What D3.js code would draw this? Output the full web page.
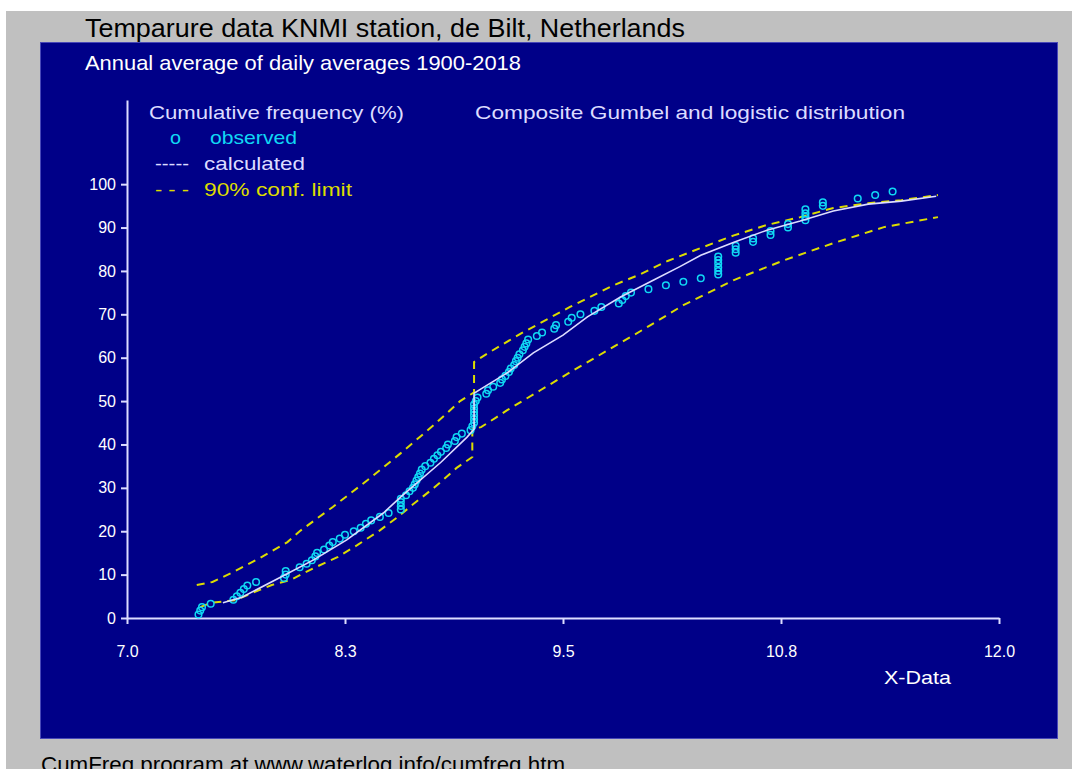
<!DOCTYPE html>
<html lang="en">
<head>
    <meta charset="UTF-8">
    <title>CumFreq - KNMI de Bilt</title>
    <style>
        body {
            margin: 0;
            background: #ffffff;
        }
        text {
            font-family: "Liberation Sans", Arial, sans-serif;
        }
    </style>
</head>
<body>
    <script src="https://d3js.org/d3.v7.min.js"></script>

    <script type="text/javascript">
        // Observed annual temperatures (sorted) and their cumulative frequency (%)
        var obsTemp = [
            7.41, 7.42, 7.43, 7.48, 7.61, 7.63, 7.65, 7.67, 7.69, 7.74,
            7.90, 7.91, 7.91, 7.99, 8.03, 8.06, 8.08, 8.09, 8.13, 8.16,
            8.18, 8.22, 8.25, 8.30, 8.34, 8.37, 8.40, 8.45, 8.50, 8.57,
            8.57, 8.57, 8.57, 8.60, 8.62, 8.64, 8.65, 8.66, 8.67, 8.68,
            8.69, 8.71, 8.74, 8.76, 8.78, 8.80, 8.83, 8.84, 8.88, 8.89,
            8.92, 8.97, 8.98, 8.99, 8.99, 8.99, 8.99, 8.99, 8.99, 9.00,
            9.01, 9.06, 9.07, 9.10, 9.14, 9.15, 9.17, 9.19, 9.20, 9.22,
            9.23, 9.24, 9.25, 9.27, 9.28, 9.29, 9.30, 9.35, 9.38, 9.45,
            9.46, 9.53, 9.55, 9.60, 9.68, 9.72, 9.82, 9.84, 9.86, 9.89,
            9.99, 10.09, 10.19, 10.29, 10.39, 10.39, 10.39, 10.39, 10.39, 10.39,
            10.49, 10.49, 10.49, 10.59, 10.59, 10.69, 10.69, 10.79, 10.79, 10.89,
            10.89, 10.89, 10.89, 10.99, 10.99, 11.19, 11.29, 11.39
        ];
        var obsFreq = [
            0.8, 1.7, 2.5, 3.3, 4.2, 5.0, 5.8, 6.7, 7.5, 8.3,
            9.2, 10.0, 10.8, 11.7, 12.5, 13.3, 14.2, 15.0, 15.8, 16.7,
            17.5, 18.3, 19.2, 20.0, 20.8, 21.7, 22.5, 23.3, 24.2, 25.0,
            25.8, 26.7, 27.5, 28.3, 29.2, 30.0, 30.8, 31.7, 32.5, 33.3,
            34.2, 35.0, 35.8, 36.7, 37.5, 38.3, 39.2, 40.0, 40.8, 41.7,
            42.5, 43.3, 44.2, 45.0, 45.8, 46.7, 47.5, 48.3, 49.2, 50.0,
            50.8, 51.7, 52.5, 53.3, 54.2, 55.0, 55.8, 56.7, 57.5, 58.3,
            59.2, 60.0, 60.8, 61.7, 62.5, 63.3, 64.2, 65.0, 65.8, 66.7,
            67.5, 68.3, 69.2, 70.0, 70.8, 71.7, 72.5, 73.3, 74.2, 75.0,
            75.8, 76.7, 77.5, 78.3, 79.2, 80.0, 80.8, 81.7, 82.5, 83.3,
            84.2, 85.0, 85.8, 86.7, 87.5, 88.3, 89.2, 90.0, 90.8, 91.7,
            92.5, 93.3, 94.2, 95.0, 95.8, 96.7, 97.5, 98.3
        ];

        // Calculated composite distribution (break at 9.0)
        var calcTemp = [7.55, 7.66, 7.88, 8.07, 8.26, 8.47, 8.57, 8.80, 8.95, 8.99, 8.99, 9.03, 9.18, 9.33, 9.50,
                        9.64, 9.83, 10.02, 10.17, 10.29, 10.48, 10.67, 10.86, 11.05, 11.25, 11.44, 11.64];
        var calcFreq = [3.5, 4.8, 9.4, 13.4, 18.0, 24.2, 27.9, 35.9, 41.7, 43.5, 51.8, 52.8, 56.5, 61.1, 65.2,
                        69.4, 74.0, 77.9, 81.0, 83.6, 86.6, 89.4, 91.5, 93.8, 95.4, 96.1, 97.2];

        // 90% confidence limits
        var upperTemp = [7.40, 7.49, 7.61, 7.76, 7.92, 7.99, 8.18, 8.38, 8.57, 8.76, 8.91, 8.99, 8.99, 9.08,
                         9.26, 9.54, 9.79, 9.93, 10.10, 10.29, 10.48, 10.67, 10.86, 11.05, 11.25, 11.44, 11.65];
        var upperFreq = [7.6, 8.3, 10.6, 13.8, 17.5, 20.0, 25.6, 31.8, 38.0, 44.5, 50.0, 52.0, 59.0, 61.3,
                         65.6, 71.7, 76.7, 79.0, 82.3, 85.3, 88.2, 90.6, 92.4, 94.5, 95.6, 96.3, 97.5];
        var lowerTemp = [7.42, 7.48, 7.62, 7.72, 7.83, 7.94, 8.07, 8.21, 8.32, 8.45, 8.55, 8.64, 8.76, 8.89,
                         8.98, 8.98, 9.03, 9.12, 9.18, 9.37, 9.56, 9.76, 9.96, 10.19, 10.48, 10.77, 11.05, 11.34, 11.65];
        var lowerFreq = [2.5, 3.5, 4.1, 5.8, 7.6, 8.8, 11.5, 14.1, 16.8, 20.2, 23.2, 26.2, 30.0, 34.6,
                         37.1, 43.5, 44.0, 46.3, 47.9, 52.5, 57.1, 61.8, 66.5, 72.1, 77.9, 82.5, 86.4, 90.1, 92.4];

        // Axis ticks
        var xTickValues = [7, 8.25, 9.5, 10.75, 12];
        var xTickLabels = ["7.0", "8.3", "9.5", "10.8", "12.0"];
        var yTickValues = [0, 10, 20, 30, 40, 50, 60, 70, 80, 90, 100];

        var width = 1077, height = 769;
        var navy = "#000088";
        var cyan = "#10d8f4";
        var yellow = "#dcdc00";
        var pale = "#dcdcff";

        var svg = d3.select("body")
                    .append("svg")
                    .attr("width", width)
                    .attr("height", height);

        // grey window and navy plot panel
        svg.append("rect").attr("x", 6).attr("y", 11)
           .attr("width", 1066).attr("height", height - 11).attr("fill", "#c0c0c0");
        svg.append("rect").attr("x", 40.5).attr("y", 42.5)
           .attr("width", 1017).attr("height", 696)
           .attr("fill", navy).attr("stroke", "#4848b8").attr("stroke-width", 1);

        // scales: y top of axis line sits above 100%
        var x = d3.scaleLinear().domain([7, 12]).range([127, 999]);
        var y = d3.scaleLinear().domain([0, 119.4]).range([618, 100]);

        // titles
        svg.append("text").attr("x", 85).attr("y", 37)
           .attr("font-size", 26).attr("fill", "#000")
           .attr("textLength", 600).attr("lengthAdjust", "spacingAndGlyphs")
           .text("Temparure data KNMI station, de Bilt, Netherlands");
        svg.append("text").attr("x", 85).attr("y", 70)
           .attr("font-size", 21).attr("fill", "#fff")
           .attr("textLength", 436).attr("lengthAdjust", "spacingAndGlyphs")
           .text("Annual average of daily averages 1900-2018");
        svg.append("text").attr("x", 41).attr("y", 772)
           .attr("font-size", 22).attr("fill", "#000")
           .attr("textLength", 524).attr("lengthAdjust", "spacingAndGlyphs")
           .text("CumFreq program at www.waterlog.info/cumfreq.htm");

        // legend block
        var legend = [
            {x: 149, y: 119, w: 255, c: pale, t: "Cumulative frequency (%)"},
            {x: 475, y: 119, w: 430, c: pale, t: "Composite Gumbel and logistic distribution"},
            {x: 170, y: 144, w: 11, c: cyan, t: "o"},
            {x: 210, y: 144, w: 87, c: cyan, t: "observed"},
            {x: 155, y: 170, w: 34, c: pale, t: "-----"},
            {x: 204, y: 170, w: 101, c: pale, t: "calculated"},
            {x: 155, y: 196, w: 34, c: yellow, t: "- - -"},
            {x: 204, y: 196, w: 148, c: yellow, t: "90% conf. limit"}
        ];
        svg.selectAll("text.leg")
           .data(legend)
           .enter()
           .append("text")
           .attr("class", "leg")
           .attr("x", function(d) { return d.x; })
           .attr("y", function(d) { return d.y; })
           .attr("font-size", 19)
           .attr("fill", function(d) { return d.c; })
           .attr("textLength", function(d) { return d.w; })
           .attr("lengthAdjust", "spacingAndGlyphs")
           .text(function(d) { return d.t; });

        // axes
        var yAxis = svg.append("g")
           .attr("transform", "translate(" + x(7) + ",0)")
           .call(d3.axisLeft(y).tickValues(yTickValues).tickSize(6).tickPadding(5).tickSizeOuter(0));
        var xAxis = svg.append("g")
           .attr("transform", "translate(0," + y(0) + ")")
           .call(d3.axisBottom(x).tickValues(xTickValues).tickSize(6).tickPadding(22).tickSizeOuter(0)
                 .tickFormat(function(d, i) { return xTickLabels[i]; }));
        [yAxis, xAxis].forEach(function(g) {
            g.selectAll("path, line").attr("stroke", pale).attr("stroke-width", 2);
            g.selectAll("text").attr("fill", "#fff").attr("font-size", 16)
             .attr("font-family", "'Liberation Sans', Arial, sans-serif");
        });

        svg.append("text").attr("x", 884).attr("y", 684)
           .attr("font-size", 19).attr("fill", "#fff")
           .attr("textLength", 67).attr("lengthAdjust", "spacingAndGlyphs")
           .text("X-Data");

        // curves
        var line = d3.line()
                     .x(function(d) { return x(d[0]); })
                     .y(function(d) { return y(d[1]); });

        svg.append("path")
           .attr("d", line(d3.zip(lowerTemp, lowerFreq)))
           .attr("fill", "none").attr("stroke", yellow)
           .attr("stroke-width", 2).attr("stroke-dasharray", "8,6");
        svg.append("path")
           .attr("d", line(d3.zip(upperTemp, upperFreq)))
           .attr("fill", "none").attr("stroke", yellow)
           .attr("stroke-width", 2).attr("stroke-dasharray", "8,6");

        // observed points
        svg.selectAll("circle.obs")
           .data(d3.zip(obsTemp, obsFreq))
           .enter()
           .append("circle")
           .attr("class", "obs")
           .attr("cx", function(d) { return x(d[0]); })
           .attr("cy", function(d) { return y(d[1]); })
           .attr("r", 3.3)
           .attr("fill", "none")
           .attr("stroke", cyan)
           .attr("stroke-width", 1.5);

        svg.append("path")
           .attr("d", line(d3.zip(calcTemp, calcFreq)))
           .attr("fill", "none").attr("stroke", pale)
           .attr("stroke-width", 1.6);
    </script>
</body>
</html>
